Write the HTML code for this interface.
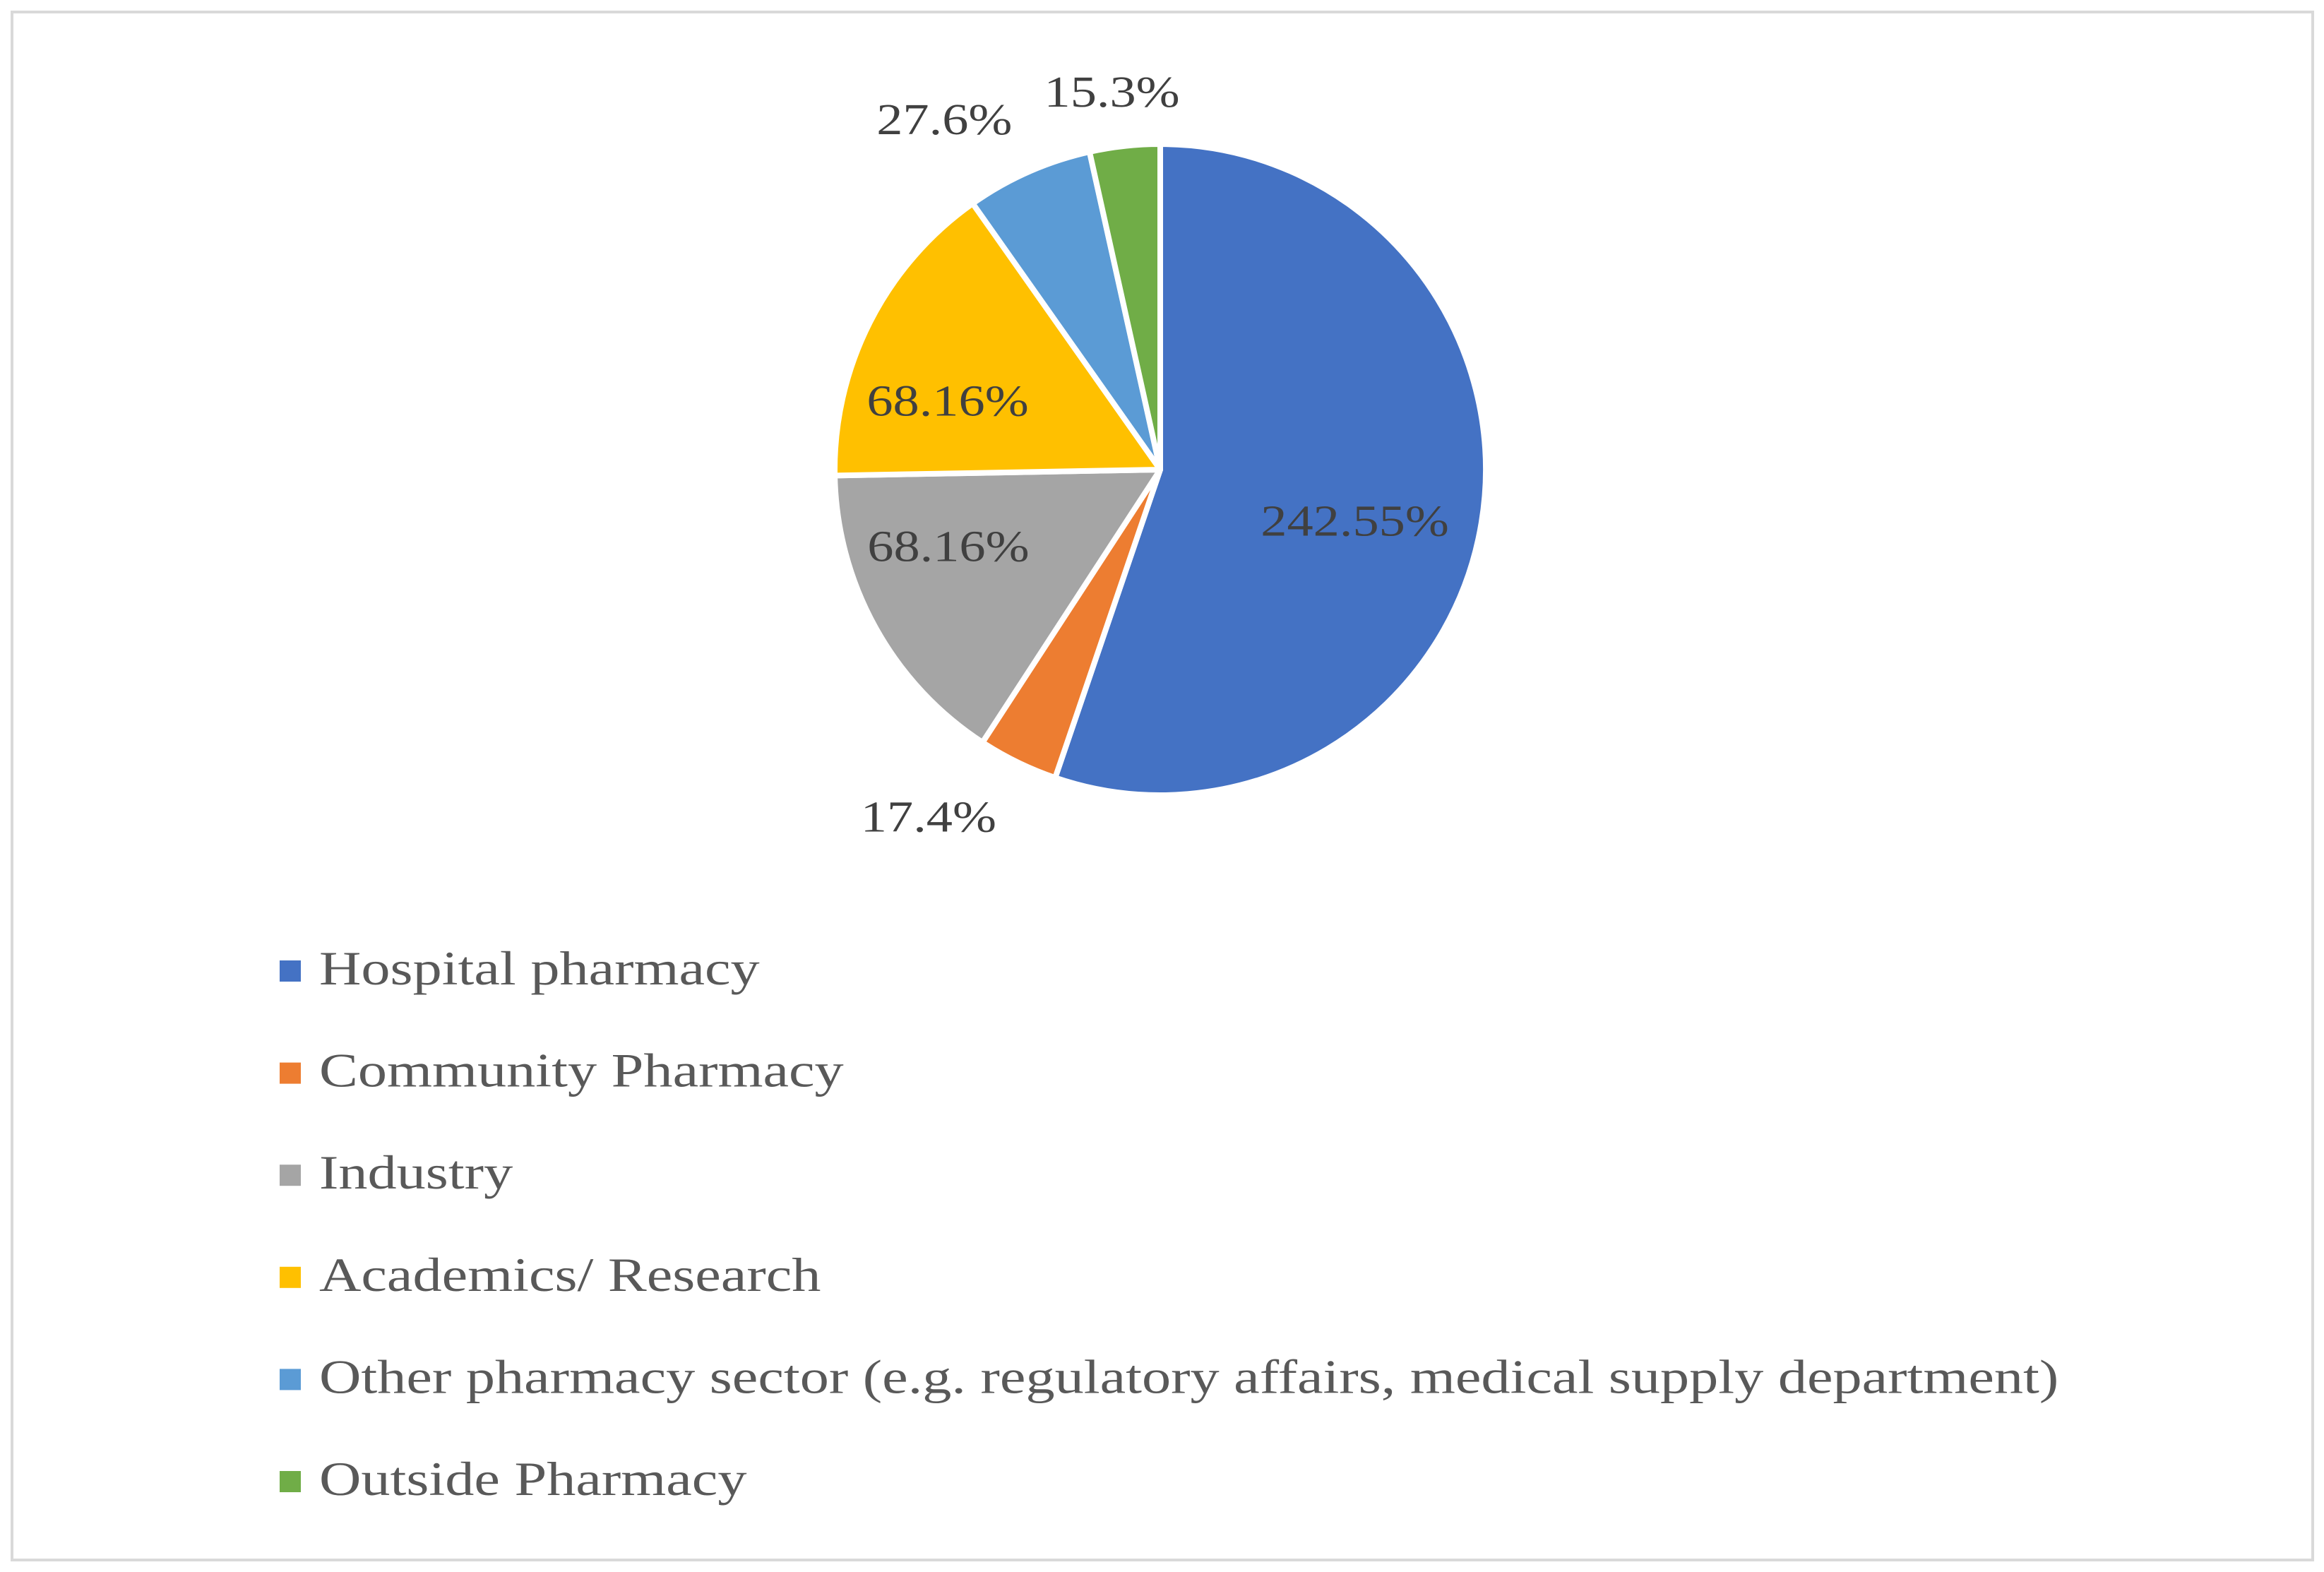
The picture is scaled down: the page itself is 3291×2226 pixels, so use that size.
<!DOCTYPE html>
<html><head><meta charset="utf-8"><style>
html,body{margin:0;padding:0;background:#fff;}
svg{display:block;font-family:"Liberation Serif",serif;}
</style></head><body>
<svg id="chart" width="3291" height="2226" viewBox="0 0 3291 2226">
<rect x="17" y="17" width="3258" height="2192" fill="#fff" stroke="#d9d9d9" stroke-width="4"/>
<g id="slices"></g>
<g id="labels"></g>
<g id="legend"></g>
</svg>
<script>
const categories = ["Hospital pharmacy","Community Pharmacy","Industry","Academics/ Research","Other pharmacy sector (e.g. regulatory affairs, medical supply department)","Outside Pharmacy"];
const values = [242.55, 17.4, 68.16, 68.16, 27.6, 15.3];
const valueLabels = ["242.55%","17.4%","68.16%","68.16%","27.6%","15.3%"];
const colors = ["#4472c4","#ed7d31","#a5a5a5","#ffc000","#5b9bd5","#70ad47"];
const labelOutside = [false,true,false,false,true,true];

const NS="http://www.w3.org/2000/svg";
const cx=1643, cy=665, R=461;
const labelNudge=[[-11,25],[-86,-6],[-46,-32],[-42,34],[-82,10],[-8,15]];
const total=values.reduce((a,b)=>a+b,0);
function pt(angDeg,r){const a=angDeg*Math.PI/180;return [cx+r*Math.sin(a), cy-r*Math.cos(a)];}
const gS=document.getElementById('slices'), gL=document.getElementById('labels'), gG=document.getElementById('legend');
let start=0;
values.forEach((v,i)=>{
  const sweep=v/total*360, end=start+sweep;
  const p0=pt(start,R), p1=pt(end,R);
  const path=document.createElementNS(NS,'path');
  path.setAttribute('d',`M${cx},${cy} L${p0[0]},${p0[1]} A${R},${R} 0 ${sweep>180?1:0} 1 ${p1[0]},${p1[1]} Z`);
  path.setAttribute('fill',colors[i]);
  path.setAttribute('stroke','#fff');
  path.setAttribute('stroke-width','8');
  path.setAttribute('stroke-linejoin','round');
  
  
  gS.appendChild(path);
  const mid=(start+end)/2;
  const lp=pt(mid, labelOutside[i]?R*1.2:R*0.63);
  const nx=lp[0]+(labelNudge[i]?labelNudge[i][0]:0), ny=lp[1]+21+(labelNudge[i]?labelNudge[i][1]:0);
  const t=document.createElementNS(NS,'text');
  t.setAttribute('x',0); t.setAttribute('y',0);
  t.setAttribute('transform',`translate(${nx},${ny}) scale(1.2,1)`);
  t.setAttribute('text-anchor','middle');
  t.setAttribute('font-size','62');
  t.setAttribute('fill','#404040');
  t.textContent=valueLabels[i];
  
  
  gL.appendChild(t);
  start=end;
});
categories.forEach((c,i)=>{
  const y=1375+i*144.6;
  const g=document.createElementNS(NS,'g');
  
  
  const r=document.createElementNS(NS,'rect');
  r.setAttribute('x',396);r.setAttribute('y',y-15);r.setAttribute('width',30);r.setAttribute('height',30);
  r.setAttribute('fill',colors[i]);
  
  
  const t=document.createElementNS(NS,'text');
  t.setAttribute('x',0);t.setAttribute('y',0);
  t.setAttribute('transform',`translate(452,${y+19}) scale(1.21,1)`);
  t.setAttribute('font-size','68');t.setAttribute('fill','#595959');
  t.textContent=c;
  
  
  g.appendChild(r);g.appendChild(t);gG.appendChild(g);
});
</script>
</body></html>
